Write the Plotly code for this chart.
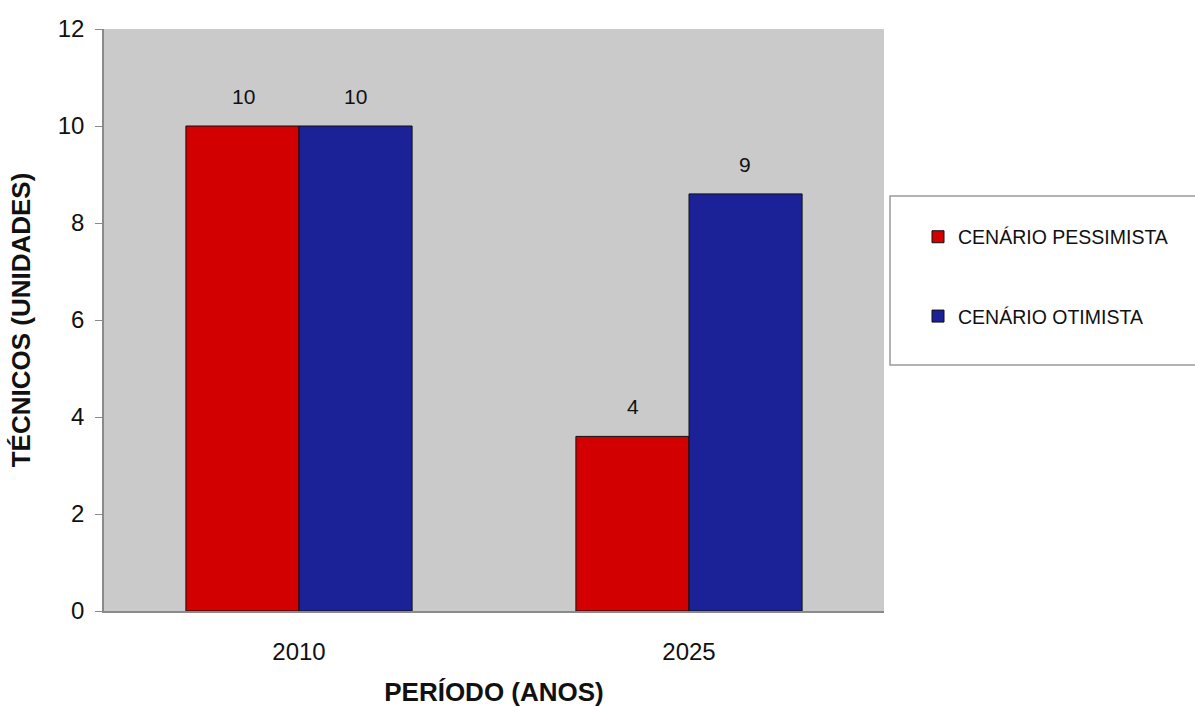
import plotly.graph_objects as go

periodos = ["2010", "2025"]
pessimista = [10, 3.6]
otimista = [10, 8.6]
nomes = ["CENÁRIO PESSIMISTA", "CENÁRIO OTIMISTA"]
y_ticks = [0, 2, 4, 6, 8, 10, 12]

cor_pess = "#d20000"
cor_otim = "#1b2196"

series = [(nomes[0], pessimista, cor_pess, -56), (nomes[1], otimista, cor_otim, 56)]

fig = go.Figure()
annotations = []
for nome, valores, cor, desloc in series:
    fig.add_trace(go.Bar(
        x=periodos, y=valores, name=nome, legendgroup=nome,
        marker=dict(color=cor, line=dict(color="#111111", width=1)),
    ))
    # value labels above each bar, rounded to whole units
    # (category axis: annotation x is the category's serial index)
    for i, v in enumerate(valores):
        annotations.append(dict(
            x=i, y=v, xref="x", yref="y", text=f"{v:.0f}", showarrow=False,
            xshift=desloc, yanchor="bottom", yshift=16,
            font=dict(family="Liberation Sans, Arial", size=21, color="#111111"),
        ))

fig.update_layout(
    width=1195, height=707,
    margin=dict(l=104, r=311, t=29, b=96, autoexpand=False),
    paper_bgcolor="white",
    plot_bgcolor="#cacaca",
    barmode="group",
    bargap=0.42,
    bargroupgap=0,
    font=dict(family="Liberation Sans, Arial", color="#111111"),
    showlegend=True,
    legend=dict(
        x=1.0436, xanchor="left", y=0.676, yanchor="top",
        bgcolor="rgba(0,0,0,0)", borderwidth=0,
        tracegroupgap=51,
        font=dict(family="Liberation Sans, Arial", size=19.5, color="#111111"),
    ),
    annotations=annotations,
    shapes=[dict(
        type="rect", xref="paper", yref="paper",
        x0=1.0077, x1=1.42, y0=0.4227, y1=0.713,
        line=dict(color="#9a9a9a", width=1.5), fillcolor="white", layer="below",
    )],
)

fig.update_yaxes(
    range=[0, 12], tickvals=y_ticks, showgrid=False, zeroline=False,
    showline=True, linecolor="#8a8a8a", linewidth=1.5,
    ticks="outside", ticklen=7, tickcolor="#8a8a8a",
    tickfont=dict(size=24), ticklabelstandoff=6,
    title=dict(text="<b>TÉCNICOS (UNIDADES)</b>", font=dict(size=26), standoff=20),
)
fig.update_xaxes(
    type="category", range=[-0.5, 1.5],
    showgrid=False, showline=True, linecolor="#8a8a8a", linewidth=1.5,
    ticks="", tickfont=dict(size=24), ticklabelstandoff=18,
    title=dict(text="<b>PERÍODO (ANOS)</b>", font=dict(size=26), standoff=22),
)

fig.write_html("out.html")
